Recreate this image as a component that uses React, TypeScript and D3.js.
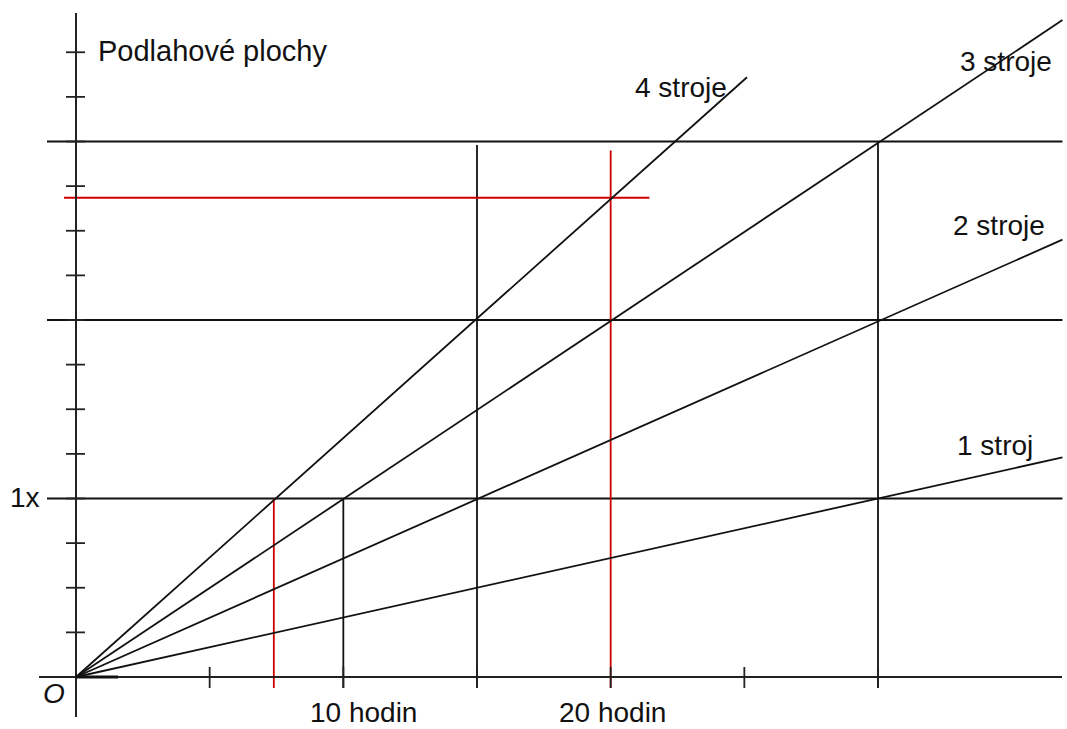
import React from "react";
import * as d3 from "d3";

// ---- data ----
const hourTicks = [5, 10, 15, 20, 25, 30];
const areaTicks = [0.25, 0.5, 0.75, 1, 1.25, 1.5, 1.75, 2, 2.25, 2.5, 2.75, 3, 3.25, 3.5];
const gridAreas = [1, 2, 3];
const machineLabels = ["1 stroj", "2 stroje", "3 stroje", "4 stroje"];
const lineEndHours = [36.9, 36.9, 36.9, 25.1];
const lineEndAreas = [1.23, 2.45, 3.68, 3.36];
const blackDropHours = [10, 15, 30];
const blackDropTops = [1, 2.98, 3];
const redDropHours = [7.4, 20];
const redDropTops = [1, 2.95];
const redReadArea = 2.685;
const redReadEndHours = 21.45;

const W = 1067;
const H = 729;

export default function App() {
  const x = d3.scaleLinear().domain([0, 30]).range([76, 878]);
  const y = d3.scaleLinear().domain([0, 1]).range([677, 498.5]);
  const line = d3
    .line<[number, number]>()
    .x((d) => x(d[0]))
    .y((d) => y(d[1]));

  const font = "'Liberation Sans', Arial, sans-serif";
  const red = "#cc0000";
  const labelPos: [number, number][] = [
    [957, 455],
    [953, 235],
    [960, 71],
    [635, 97],
  ];

  return (
    <div style={{ position: "absolute", left: 0, top: 0 }}>
      <svg width={W} height={H} style={{ display: "block", background: "#fff" }}>
        <rect x={0} y={0} width={W} height={H} fill="#fff" />
        {/* horizontal guides */}
        {gridAreas.map((a) => (
          <line key={"g" + a} x1={47} x2={x(36.9)} y1={y(a)} y2={y(a)} stroke="#111" strokeWidth={2} />
        ))}
        {/* black drops */}
        {blackDropHours.map((h, i) => (
          <line key={"b" + h} x1={x(h)} x2={x(h)} y1={y(blackDropTops[i])} y2={688} stroke="#111" strokeWidth={1.8} />
        ))}
        {/* red drops */}
        {redDropHours.map((h, i) => (
          <line key={"r" + h} x1={x(h)} x2={x(h)} y1={y(redDropTops[i])} y2={688} stroke={red} strokeWidth={1.8} />
        ))}
        <line x1={64} x2={x(redReadEndHours)} y1={y(redReadArea)} y2={y(redReadArea)} stroke={red} strokeWidth={1.8} />
        {/* axes */}
        <line x1={39} x2={1062} y1={y(0)} y2={y(0)} stroke="#222" strokeWidth={2} />
        <line x1={x(0)} x2={118} y1={y(0)} y2={y(0)} stroke="#111" strokeWidth={3} />
        <line x1={x(0)} x2={x(0)} y1={13} y2={717} stroke="#222" strokeWidth={2} />
        {hourTicks.map((h) => (
          <line key={"xt" + h} x1={x(h)} x2={x(h)} y1={667} y2={688} stroke="#222" strokeWidth={1.8} />
        ))}
        {areaTicks.map((a) => (
          <line key={"yt" + a} x1={66} x2={85} y1={y(a)} y2={y(a)} stroke="#222" strokeWidth={1.8} />
        ))}
        {/* machine lines */}
        {lineEndHours.map((h, i) => (
          <path
            key={"m" + i}
            d={line([
              [0, 0],
              [h, lineEndAreas[i]],
            ]) || ""}
            fill="none"
            stroke="#111"
            strokeWidth={1.8}
          />
        ))}
        {/* labels */}
        <g fontFamily={font} fontSize={28} fill="#111">
          <text x={98} y={61} fontSize={29}>Podlahové plochy</text>
          {machineLabels.map((t, i) => (
            <text key={t} x={labelPos[i][0]} y={labelPos[i][1]}>
              {t}
            </text>
          ))}
          <text x={10} y={507}>1x</text>
          <text x={43} y={703} fontStyle="italic">O</text>
          <text x={310} y={722}>10 hodin</text>
          <text x={559} y={722}>20 hodin</text>
        </g>
      </svg>
    </div>
  );
}
